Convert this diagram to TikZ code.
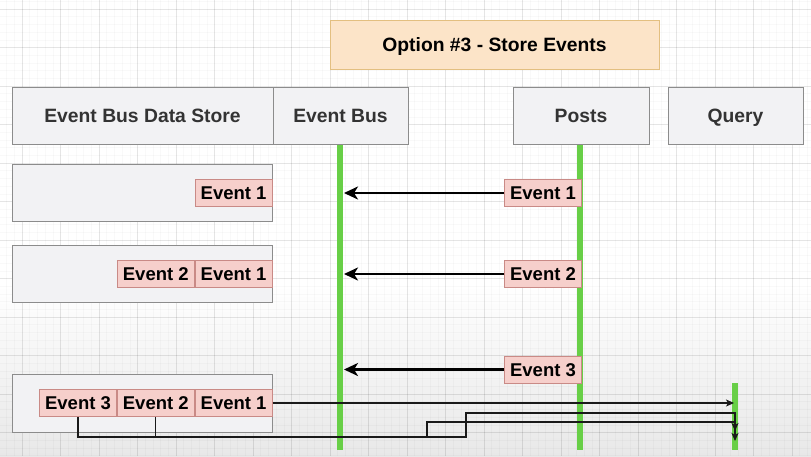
\documentclass[tikz,border=0pt]{standalone}
\usepackage{fontspec}
\setmainfont{Liberation Sans}
\usetikzlibrary{arrows.meta}
\definecolor{hdrfill}{HTML}{F2F2F4}
\definecolor{hdrline}{HTML}{8C8C8C}
\definecolor{hdrtext}{HTML}{333333}
\definecolor{evfill}{HTML}{F6CFCB}
\definecolor{evline}{HTML}{C98A86}
\definecolor{titlefill}{HTML}{FCE4C8}
\definecolor{titleline}{HTML}{E3BF80}
\definecolor{life}{HTML}{68CF47}
\begin{document}
\begin{tikzpicture}[x=1pt,y=-1pt,
  lbl/.style={font=\fontsize{18.5}{22}\selectfont\bfseries, inner sep=0pt,
    text height=13.3pt, text depth=0pt},
  biglbl/.style={font=\fontsize{19.3}{23}\selectfont\bfseries, inner sep=0pt,
    text height=13.9pt, text depth=0pt},
  titlebox/.style={biglbl, draw=titleline, fill=titlefill, line width=1pt, text=black,
    minimum width=329pt, minimum height=49pt},
  hdr/.style={biglbl, draw=hdrline, fill=hdrfill, line width=1pt, text=hdrtext, minimum height=57pt},
  store/.style={draw=hdrline, fill=hdrfill, line width=1pt, minimum width=260pt, inner sep=0pt},
  ev/.style={lbl, draw=evline, fill=evfill, line width=0.8pt, text=black,
    minimum width=77pt, minimum height=27pt},
  lifeline/.style={draw=life, line width=6.5pt},
  push/.style={draw=black, line width=2.9pt, -{Stealth[length=14pt,width=13pt,inset=4pt]}},
  feed/.style={draw=black!90, line width=1.1pt, -{Stealth[length=8pt,width=7pt,inset=2pt]}},
  gridmajor/.style={draw=black, opacity=0.08, line width=0.8pt},
  gridminor/.style={draw=black, opacity=0.022, line width=0.6pt}]

% page and canvas
\useasboundingbox (0,0) rectangle (811,456);
\fill[white] (0,0) rectangle (811,456);
\shade[top color=white, bottom color=black!9] (0,285) rectangle (811,456);

% canvas grid
\foreach \k in {-2,...,102} {
  \draw[gridminor] (22+7.7*\k,0) -- (22+7.7*\k,456);
}
\foreach \k in {-1,...,58} {
  \draw[gridminor] (0,9+7.7*\k) -- (811,9+7.7*\k);
}
\foreach \k in {0,...,20} {
  \draw[gridmajor] (22+38.5*\k,0) -- (22+38.5*\k,456);
}
\foreach \k in {0,...,11} {
  \draw[gridmajor] (0,9+38.5*\k) -- (811,9+38.5*\k);
}

% title
\node[titlebox] (title) at (494.5,44.5) {Option \#3 - Store Events};

% column headers
\node[hdr, minimum width=261pt] (hstore) at (142.5,116) {Event Bus Data Store};
\node[hdr, minimum width=135pt] (hbus)   at (340.5,116) {Event Bus};
\node[hdr, minimum width=136pt] (hposts) at (581,116)   {Posts};
\node[hdr, minimum width=135pt] (hquery) at (735.5,116) {Query};

% lifelines
\coordinate (busend)   at (340,450);
\coordinate (postsend) at (580,450);
\coordinate (qtop)     at (735,383);
\coordinate (qbot)     at (735,450);
\draw[lifeline] (hbus.south -| busend) -- (busend);
\draw[lifeline] (hposts.south -| postsend) -- (postsend);
\draw[lifeline] (qtop) -- (qbot);

% data store snapshots
\node[store, minimum height=57pt] (s1) at (142,192.5) {};
\node[store, minimum height=57pt] (s2) at (142,273.5) {};
\node[store, minimum height=58pt] (s3) at (142,403) {};

\node[ev, anchor=east] (a1) at (s1.east) {Event 1};

\node[ev, anchor=east] (b1) at (s2.east) {Event 1};
\node[ev, anchor=east] (b2) at (b1.west) {Event 2};

\node[ev, anchor=east] (c1) at (s3.east) {Event 1};
\node[ev, anchor=east] (c2) at (c1.west) {Event 2};
\node[ev, anchor=east] (c3) at (c2.west) {Event 3};

% events emitted by Posts
\node[ev] (p1) at (543,193)   {Event 1};
\node[ev] (p2) at (543,274)   {Event 2};
\node[ev] (p3) at (543,369.5) {Event 3};

\coordinate (busedge) at (344,0);
\draw[push] (p1.west) -- (p1.west -| busedge);
\draw[push] (p2.west) -- (p2.west -| busedge);
\draw[push] (p3.west) -- (p3.west -| busedge);

% replay of stored events to Query
\coordinate (qedge) at (734,0);
\coordinate (k2) at (466,437);
\coordinate (t2) at (735,413);
\coordinate (e2) at (735,431);
\coordinate (k3) at (427,437);
\coordinate (t3) at (735,422);
\coordinate (e3) at (735,441);
\draw[feed] (c1.east) -- (c1.east -| qedge);
\draw[feed] (c2.south) |- (k2) |- (t2) -- (e2);
\draw[feed] (c3.south) |- (k3) |- (t3) -- (e3);

\end{tikzpicture}
\end{document}
